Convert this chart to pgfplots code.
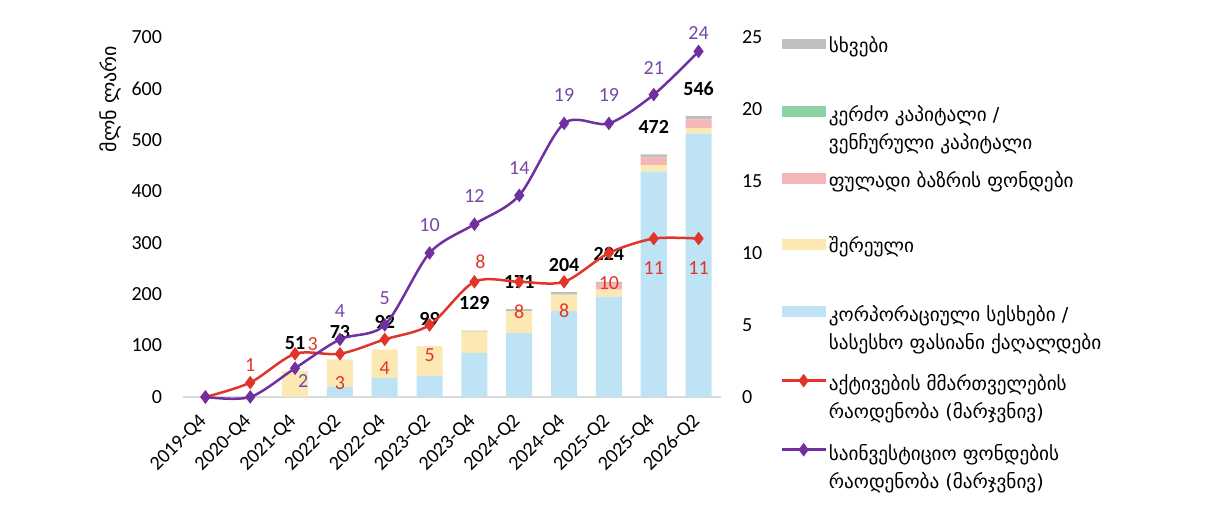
\documentclass[border=0pt]{standalone}
\usepackage{fontspec}
\setmainfont{Carlito}
\newfontfamily\geo{DejaVu Sans}
\usepackage{pgfplots}
\usepackage{pgfplotstable}
\pgfplotsset{compat=1.18}

\definecolor{cblue}{RGB}{189,227,245}
\definecolor{cyel}{RGB}{252,232,178}
\definecolor{cpink}{RGB}{244,182,182}
\definecolor{cgreen}{RGB}{140,210,165}
\definecolor{cgrey}{RGB}{191,191,191}
\definecolor{cred}{RGB}{225,52,42}
\definecolor{cpur}{RGB}{112,48,160}
\definecolor{cpurlab}{RGB}{120,70,170}
\definecolor{cbase}{RGB}{217,217,217}

\pgfplotstableread{
x blue mixed money pe other tot tl
0 0 0 0 0 0 0 {}
1 0 0 0 0 0 0 {}
2 0 51 0 0 0 51 51
3 20 53 0 0 0 73 73
4 37 55 0 0 0 92 92
5 41 58 0 0 0 99 99
6 86 41 0 0 2 129 129
7 124 43 0 0 4 171 171
8 167 32 0 0 5 204 204
9 195 14 13 0 2 224 224
10 438 13 15 0 6 472 472
11 512 11 17 0 6 546 546
}\bars

\pgfplotstableread{
x red rl rdx rdy pur pl pdx pdy
0 0 {} 0 0 0 {} 0 0
1 1 1 0 9 0 {} 0 0
2 3 3 8.8 5 2 2 4 -6.5
3 3 3 0 -14.5 4 4 0 14
4 4 4 0 -14.5 5 5 0 13.5
5 5 5 0 -15 10 10 0 14
6 8 8 3 10 12 12 0 14
7 8 8 0 -15 14 14 0 13.5
8 8 8 0 -14.5 19 19 0 14
9 10 10 0 -15 19 19 0 14
10 11 11 0 -14.5 21 21 0 13.5
11 11 11 0 -14.5 24 24 0 9
}\lines

\pgfplotsset{
  swatch/.style={legend image code/.code={\fill[##1, draw=none] (0pt,-1.7pt) rectangle (22pt,3.7pt);}},
  lineleg/.style={legend image code/.code={\draw[mark repeat=2,mark phase=2,##1] plot coordinates {(0pt,1pt) (11pt,1pt) (22pt,1pt)};}},
  base/.style={
    at={(0,0)}, anchor=south west,
    scale only axis, width=269pt, height=180pt,
    xmin=-0.5, xmax=11.5, clip=false,
    major tick length=0pt,
    tick label style={font=\fontsize{10}{12}\selectfont},
    /pgf/number format/assume math mode=true,
  },
}
\newcommand{\lgs}{\rule[-24.25pt]{0pt}{10pt}}

\begin{document}
\begin{tikzpicture}
\useasboundingbox (-91.5pt,-61pt) rectangle (511.5pt,198.5pt);
% bars
\begin{axis}[base,
  ymin=0, ymax=700,
  ybar stacked, bar width=13pt,
  xtick={0,...,11},
  xticklabels={2019-Q4,2020-Q4,2021-Q4,2022-Q2,2022-Q4,2023-Q2,2023-Q4,2024-Q2,2024-Q4,2025-Q2,2025-Q4,2026-Q2},
  ytick={0,100,...,700},
  axis x line*=bottom, axis y line*=left,
  x axis line style={draw=cbase, line width=0.8pt, -},
  y axis line style={draw=none},
  xticklabel style={xshift=1.5pt, yshift=-8.2pt, rotate=45, anchor=east},
  yticklabel style={xshift=-7pt},
  ylabel={\geo მლნ ლარი},
  ylabel style={at={(axis description cs:-0.1357,0.828)}, anchor=center, font=\fontsize{10}{12}\selectfont},
]
\addplot[fill=cblue, draw=none] table[x=x,y=blue]{\bars};
\addplot[fill=cyel, draw=none] table[x=x,y=mixed]{\bars};
\addplot[fill=cpink, draw=none] table[x=x,y=money]{\bars};
\addplot[fill=cgreen, draw=none] table[x=x,y=pe]{\bars};
\addplot[fill=cgrey, draw=none] table[x=x,y=other]{\bars};
\end{axis}
% totals
\begin{axis}[base, ymin=0, ymax=700, hide axis]
\addplot[draw=none, mark=none, nodes near coords, point meta=explicit symbolic,
  every node near coord/.append style={anchor=center, yshift=13.75pt, font=\fontsize{10}{12}\selectfont\bfseries, text=black}]
  table[x=x, y=tot, meta=tl]{\bars};
\end{axis}
% lines
\begin{axis}[base,
  ymin=0, ymax=25,
  axis x line=none, axis y line*=right,
  y axis line style={draw=none},
  ytick={0,5,...,25},
  yticklabel style={xshift=7pt},
  legend cell align=left,
  legend style={draw=none, fill=none,
    at={(axis description cs:1,1)}, anchor=north west, xshift=26.5pt, yshift=3.5pt,
    font=\geo\fontsize{9.6}{14}\selectfont,
    row sep=21.25pt, column sep=0pt,
    nodes={inner sep=1pt}},
]
\addlegendimage{swatch, fill=cgrey}
\addlegendentry{\lgs სხვები}
\addlegendimage{swatch, fill=cgreen}
\addlegendentry{\lgs{\begin{tabular}[t]{@{}l@{}}კერძო კაპიტალი /\\ვენჩურული კაპიტალი\end{tabular}}}
\addlegendimage{swatch, fill=cpink}
\addlegendentry{\lgs ფულადი ბაზრის ფონდები}
\addlegendimage{swatch, fill=cyel}
\addlegendentry{\lgs შერეული}
\addlegendimage{swatch, fill=cblue}
\addlegendentry{\lgs{\begin{tabular}[t]{@{}l@{}}კორპორაციული სესხები /\\სასესხო ფასიანი ქაღალდები\end{tabular}}}

\addplot[lineleg, color=cred, line width=1.25pt, smooth, mark=diamond*, mark size=3pt,
  mark options={fill=cred, line width=0.5pt},
  nodes near coords, point meta=explicit symbolic,
  visualization depends on={\thisrow{rdx}\as\ldx},
  visualization depends on={\thisrow{rdy}\as\ldy},
  every node near coord/.append style={anchor=center, xshift=\ldx pt, yshift=\ldy pt, text=cred, font=\fontsize{10}{12}\selectfont}]
  table[x=x, y=red, meta=rl]{\lines};
\addlegendentry{\lgs{\begin{tabular}[t]{@{}l@{}}აქტივების მმართველების\\რაოდენობა (მარჯვნივ)\end{tabular}}}

\addplot[lineleg, color=cpur, line width=1.25pt, smooth, mark=diamond*, mark size=3pt,
  mark options={fill=cpur, line width=0.5pt},
  nodes near coords, point meta=explicit symbolic,
  visualization depends on={\thisrow{pdx}\as\ldx},
  visualization depends on={\thisrow{pdy}\as\ldy},
  every node near coord/.append style={anchor=center, xshift=\ldx pt, yshift=\ldy pt, text=cpurlab, font=\fontsize{10}{12}\selectfont}]
  table[x=x, y=pur, meta=pl]{\lines};
\addlegendentry{\lgs{\begin{tabular}[t]{@{}l@{}}საინვესტიციო ფონდების\\რაოდენობა (მარჯვნივ)\end{tabular}}}
\end{axis}
\end{tikzpicture}
\end{document}
